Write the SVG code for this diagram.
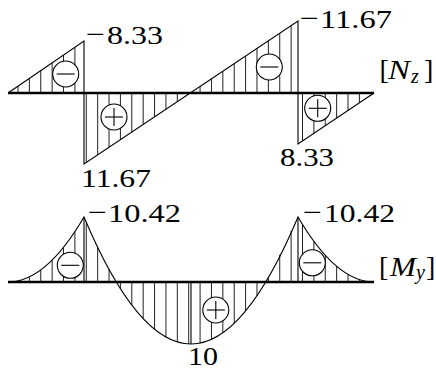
<svg xmlns="http://www.w3.org/2000/svg" width="436" height="369" viewBox="0 0 436 369">
<style>
.h{stroke:#222;stroke-width:1;fill:none}
.o{stroke:#000;stroke-width:1.1;fill:none;stroke-linejoin:miter}
.b{stroke:#000;stroke-width:2.5}
.c{fill:#fff;stroke:#000;stroke-width:1.1}
.s{stroke:#000;stroke-width:1.1}
.i{font-style:italic}
</style>
<defs>
<g id="minus"><circle class="c" r="13"/><line class="s" x1="-9" y1="0" x2="9" y2="0"/></g>
<g id="plus"><circle class="c" r="13"/><line class="s" x1="-9" y1="0" x2="9" y2="0"/><line class="s" x1="0" y1="-9" x2="0" y2="9"/></g>
</defs>

<g id="normal-force">
<g id="n-hatch" class="h">
<path d="M18,93V86.16M29.38,93V78.37M40.76,93V70.59M52.14,93V62.8M63.52,93V55.01M74.9,93V47.23
M86.28,93V162.48M97.66,93V154.87M109.04,93V147.27M120.42,93V139.66M131.8,93V132.06M143.18,93V124.45M154.56,93V116.85M165.94,93V109.25M177.32,93V101.64M188.7,93V94.04
M200.08,93V86.43M211.46,93V78.83M222.84,93V71.22M234.22,93V63.62M245.6,93V56.01M256.98,93V48.41M268.36,93V40.81M279.74,93V33.2M291.12,93V25.6
M302.5,93V140.98M313.88,93V133.34M325.26,93V125.71M336.64,93V118.07M348.02,93V110.43M359.4,93V102.8"/>
</g>
<path class="o" d="M8,93L84,41V164L298,21V144L374,93"/>
<line class="b" x1="8" y1="93" x2="374" y2="93"/>
<use href="#minus" x="65.7" y="74"/>
<use href="#plus" x="114" y="117"/>
<use href="#minus" x="269.3" y="67"/>
<use href="#plus" x="317.7" y="108.3"/>
<g font-family="Liberation Serif, Times New Roman, serif" font-size="26" fill="#000">
<text y="44"><tspan x="86" dy="-1" textLength="19" lengthAdjust="spacingAndGlyphs">−</tspan><tspan x="107" dy="1" textLength="56" lengthAdjust="spacingAndGlyphs">8.33</tspan></text>
<text x="81" y="187" textLength="70" lengthAdjust="spacingAndGlyphs">11.67</text>
<text y="28"><tspan x="300" dy="-1" textLength="19" lengthAdjust="spacingAndGlyphs">−</tspan><tspan x="320" dy="1" textLength="72" lengthAdjust="spacingAndGlyphs">11.67</tspan></text>
<text x="280" y="166" textLength="54" lengthAdjust="spacingAndGlyphs">8.33</text>
<text y="79" font-size="28"><tspan x="379.5">[</tspan><tspan x="388" class="i" textLength="22" lengthAdjust="spacingAndGlyphs">N</tspan><tspan x="411" dy="4" class="i" font-size="20">z</tspan><tspan x="424" dy="-4">]</tspan></text>
</g>
</g>

<g id="bending-moment">
<g id="m-hatch" class="h">
<path d="M18,282V280.87M29.38,282V276.86M40.76,282V269.92M52.14,282V260.07M63.52,282V247.31M74.9,282V231.63
M86.28,282V222.36M97.66,282V247.36M109.04,282V269.49M120.42,282V288.74M131.8,282V305.12M143.18,282V318.64M154.56,282V329.27M165.94,282V337.03M177.32,282V341.92M188.7,282V343.94
M200.08,282V343.09M211.46,282V339.35M222.84,282V332.75M234.22,282V323.28M245.6,282V310.93M256.98,282V295.71M268.36,282V277.61M279.74,282V254.67M291.12,282V230.58
M302.5,282V224.47M313.88,282V241.32M325.26,282V255.27M336.64,282V266.29M348.02,282V274.41M359.4,282V279.6"/>
</g>
<path class="o" d="M8,282Q46,282 84,217Q191,471 298,217Q336,282 374,282"/>
<path class="o" d="M84,217V282M191,282V344M298,217V282"/>
<line class="b" x1="8" y1="282" x2="374" y2="282"/>
<use href="#minus" x="70.3" y="265.3"/>
<use href="#plus" x="215.8" y="310"/>
<use href="#minus" x="312.3" y="262.8"/>
<g font-family="Liberation Serif, Times New Roman, serif" font-size="26" fill="#000">
<text y="222"><tspan x="88" dy="-1" textLength="19" lengthAdjust="spacingAndGlyphs">−</tspan><tspan x="108" dy="1" textLength="73" lengthAdjust="spacingAndGlyphs">10.42</tspan></text>
<text y="222"><tspan x="303" dy="-1" textLength="19" lengthAdjust="spacingAndGlyphs">−</tspan><tspan x="324" dy="1" textLength="71" lengthAdjust="spacingAndGlyphs">10.42</tspan></text>
<text x="188" y="365" textLength="30" lengthAdjust="spacingAndGlyphs">10</text>
<text y="276" font-size="28"><tspan x="379">[</tspan><tspan x="390" class="i" textLength="26" lengthAdjust="spacingAndGlyphs">M</tspan><tspan x="416" dy="3" class="i" font-size="20">y</tspan><tspan x="426" dy="-3">]</tspan></text>
</g>
</g>
</svg>
